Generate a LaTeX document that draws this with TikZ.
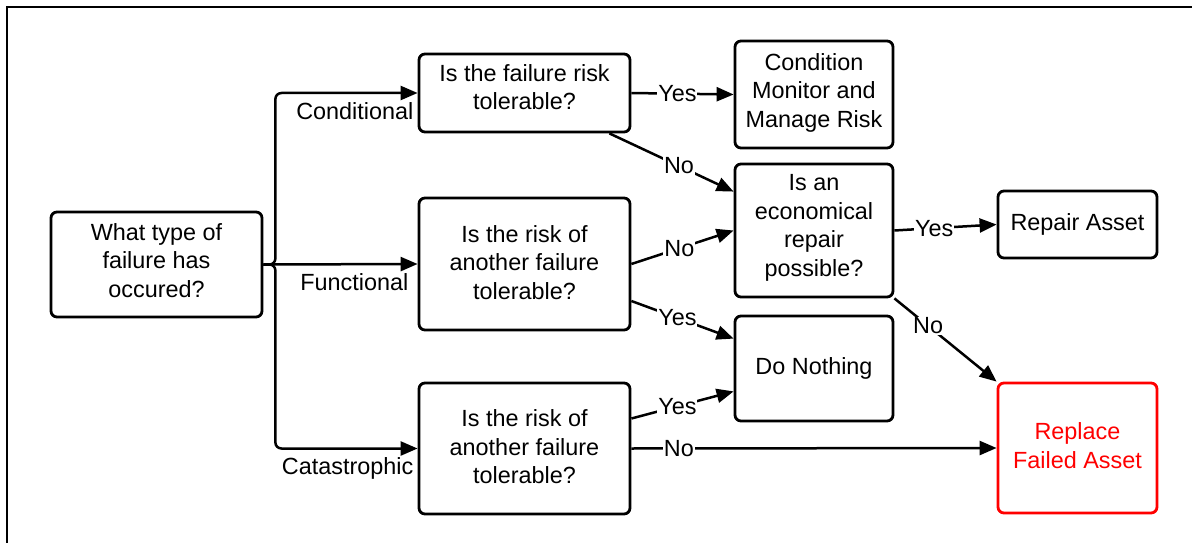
\documentclass[tikz,border=0pt]{standalone}
\usepackage{fontspec}
\setmainfont{Liberation Sans}
\usetikzlibrary{arrows.meta}
\begin{document}
\begin{tikzpicture}[x=1pt,y=-1pt,
  font=\fontsize{23.4}{28.5}\selectfont,
  box/.style={draw, line width=2.8pt, rounded corners=6pt, align=center, inner sep=0pt},
  arr/.style={line width=2.5pt, -{Triangle[length=17pt,width=14pt]}},
  lab/.style={fill=white, inner sep=1pt},
  blab/.style={inner sep=0pt}]
\useasboundingbox (0,0) rectangle (1192,543);
% frame
\draw[line width=2pt] (7,550) -- (7,7) -- (1200,7);
% boxes
\node[box, text depth=8pt, minimum width=211pt, minimum height=105pt] (start) at (156.5,264.5) {What type of\\failure has\\occured?};
\node[box, text depth=12pt, minimum width=211pt, minimum height=78pt] (q1) at (524.5,93) {Is the failure risk\\tolerable?};
\node[box, text depth=3pt, minimum width=211pt, minimum height=132pt] (q2) at (524.5,264) {Is the risk of\\another failure\\tolerable?};
\node[box, text depth=3pt, minimum width=211pt, minimum height=131pt] (q3) at (524.5,448.5) {Is the risk of\\another failure\\tolerable?};
\node[box, text depth=8pt, minimum width=158pt, minimum height=107pt] (cm) at (814,94.5) {Condition\\Monitor and\\Manage Risk};
\node[box, text depth=10pt, minimum width=158pt, minimum height=133pt] (econ) at (814,230.5) {Is an\\economical\\repair\\possible?};
\node[box, minimum width=158pt, minimum height=105pt] (nothing) at (814,368.5) {Do Nothing};
\node[box, minimum width=159pt, minimum height=67pt] (repair) at (1077.5,224.5) {Repair Asset};
\node[box, text depth=5pt, draw=red, text=red, minimum width=159pt, minimum height=130pt] (replace) at (1077.5,448) {Replace\\Failed Asset};
% branches from start
\draw[arr, rounded corners=6pt] (start.east) -- ([xshift=12pt]start.east) |- (q1.west)
  node[pos=1, blab, anchor=north east, xshift=-3pt, yshift=-8pt] {Conditional};
\draw[arr] (start.east) -- (q2.west)
  node[pos=1, blab, anchor=north east, xshift=-8pt, yshift=-8pt] {Functional};
\draw[arr, rounded corners=6pt] (start.east) -- ([xshift=12pt]start.east) |- (q3.west)
  node[pos=1, blab, anchor=north east, xshift=-3pt, yshift=-8pt] {Catastrophic};
% decisions
\draw[arr] (q1.east) -- (cm.west) node[lab, pos=0.45] {Yes};
\draw[arr] ([xshift=-22pt]q1.south east) -- ([yshift=-29pt]econ.north west) node[lab, pos=0.56] {No};
\draw[arr] (q2.east) -- (econ.west) node[lab, pos=0.47] {No};
\draw[arr] ([yshift=-37pt]q2.east) -- ([yshift=-24pt]nothing.north west) node[lab, pos=0.45] {Yes};
\draw[arr] ([yshift=30pt]q3.east) -- ([yshift=31pt]nothing.south west) node[lab, pos=0.45] {Yes};
\draw[arr] (q3.east) -- (replace.west) node[lab, pos=0.13] {No};
\draw[arr] (econ.east) -- (repair.west) node[lab, pos=0.39] {Yes};
\draw[arr] (econ.south east) -- (replace.north west) node[lab, pos=0.33] {No};
\end{tikzpicture}
\end{document}
